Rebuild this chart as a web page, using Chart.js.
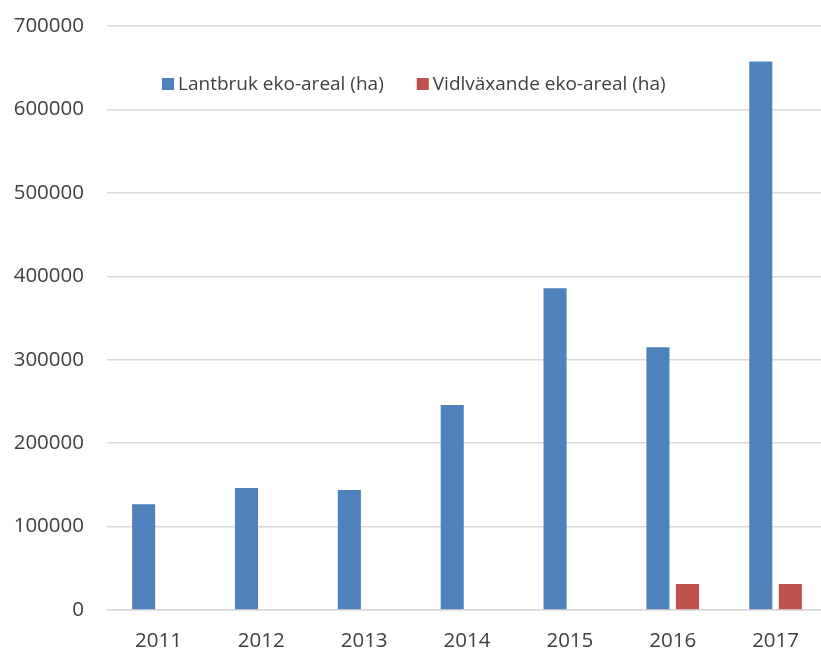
<!DOCTYPE html>
<html lang="sv">
<head>
    <meta charset="UTF-8">
    <title>Eko-areal</title>
    <script src="https://cdn.jsdelivr.net/npm/chart.js"></script>
    <style>
        html, body {
            margin: 0;
            padding: 0;
            background: white;
            overflow: hidden;
        }
        #wrap {
            width: 827px;
            height: 649px;
        }
    </style>
</head>
<body>
    <div id="wrap"><canvas id="ekoChart"></canvas></div>

    <script>
        const years = ['2011', '2012', '2013', '2014', '2015', '2016', '2017'];
        const lantbruk = [126700, 146300, 143900, 245800, 385700, 315000, 657400];
        const vildvaxande = [null, null, null, null, null, 31200, 31200];
        const seriesNames = ['Lantbruk eko-areal (ha)', 'Vidlväxande eko-areal (ha)'];
        const yMax = 700000;
        const yStep = 100000;

        const textColor = '#404040';
        const font = "'Open Sans', sans-serif";

        // legend sits inside the plot area, like the original
        const insideLegend = {
            id: 'insideLegend',
            afterDraw(chart) {
                const ctx = chart.ctx;
                ctx.save();
                ctx.font = '19px ' + font;
                ctx.textBaseline = 'alphabetic';
                ctx.textAlign = 'left';
                let x = 162;
                chart.data.datasets.forEach(ds => {
                    ctx.fillStyle = ds.backgroundColor;
                    ctx.fillRect(x, 78, 12, 12);
                    ctx.fillStyle = textColor;
                    ctx.fillText(ds.label, x + 16, 90);
                    x += 16 + ctx.measureText(ds.label).width + 33;
                });
                ctx.restore();
            }
        };

        const ctx = document.getElementById('ekoChart').getContext('2d');
        const myChart = new Chart(ctx, {
            type: 'bar',
            data: {
                labels: years,
                datasets: [{
                    label: seriesNames[0],
                    data: lantbruk,
                    backgroundColor: '#4F81BD',
                    borderWidth: 0
                }, {
                    label: seriesNames[1],
                    data: vildvaxande,
                    backgroundColor: '#C0504D',
                    borderWidth: 0
                }]
            },
            options: {
                responsive: true,
                maintainAspectRatio: false,
                animation: false,
                layout: {
                    padding: { top: 26, right: 0, bottom: 0, left: 0 }
                },
                datasets: {
                    bar: {
                        categoryPercentage: 0.575,
                        barPercentage: 0.78
                    }
                },
                plugins: {
                    legend: { display: false },
                    tooltip: { enabled: false }
                },
                scales: {
                    x: {
                        grid: { display: false },
                        border: { display: true, color: '#d9d9d9', width: 1.5 },
                        ticks: {
                            color: textColor,
                            font: { family: font, size: 20.5 },
                            padding: 11
                        },
                        afterFit(scale) { scale.height = 39; }
                    },
                    y: {
                        min: 0,
                        max: yMax,
                        grid: {
                            color: '#d9d9d9',
                            lineWidth: 1.5,
                            drawTicks: false
                        },
                        border: { display: false },
                        ticks: {
                            stepSize: yStep,
                            color: textColor,
                            font: { family: font, size: 20.5 },
                            padding: 23,
                            callback: v => String(v)
                        },
                        afterFit(scale) {
                            scale.width = 107;
                            scale.paddingTop = 0;
                            scale.paddingBottom = 0;
                        }
                    }
                }
            },
            plugins: [insideLegend]
        });
    </script>
</body>
</html>
